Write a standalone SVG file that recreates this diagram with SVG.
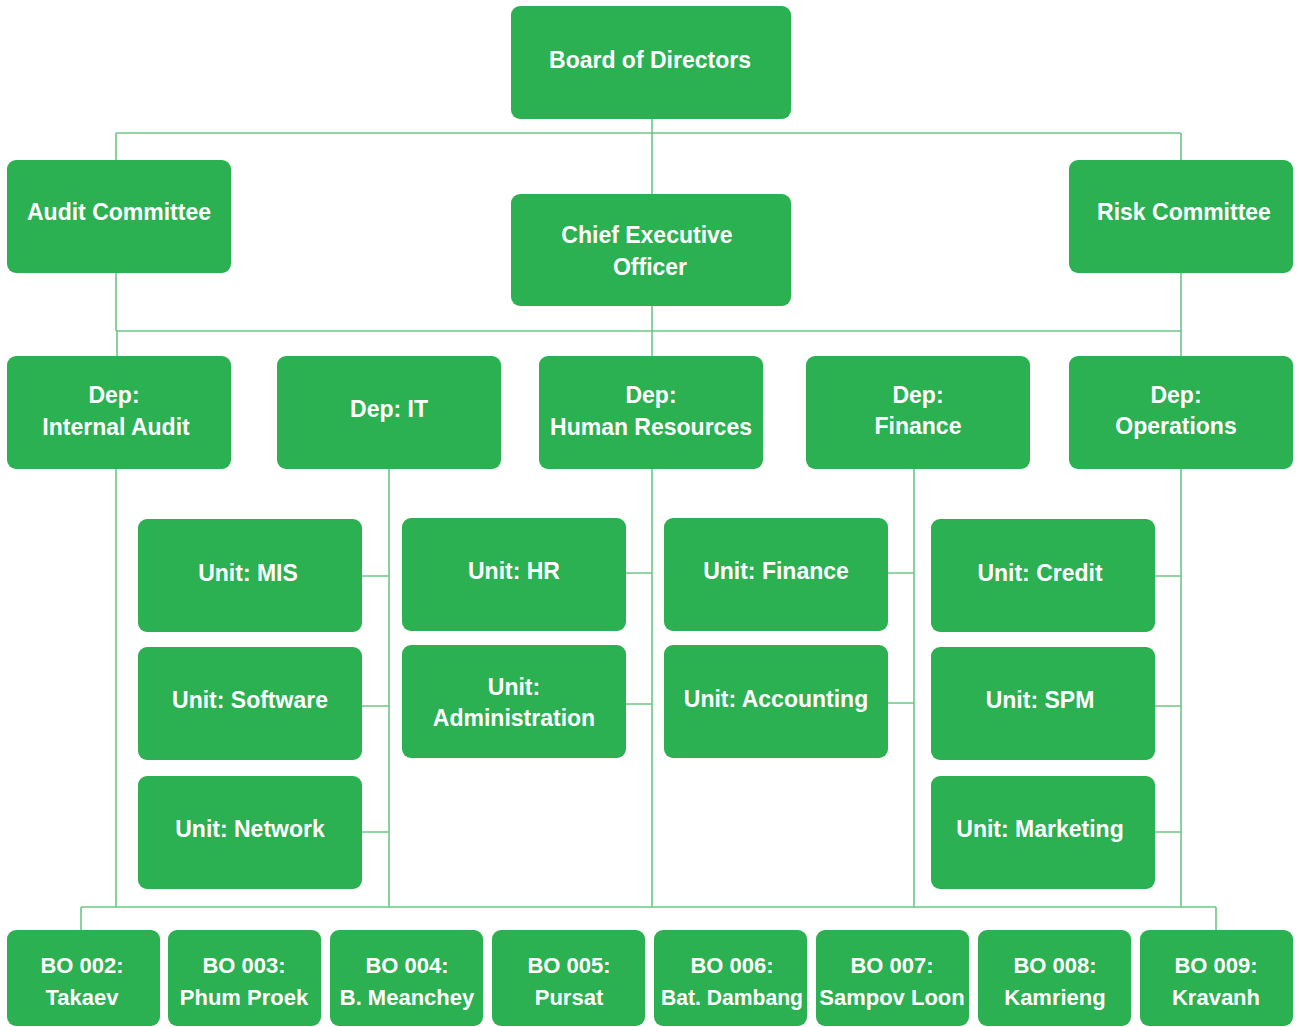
<svg xmlns="http://www.w3.org/2000/svg" width="1298" height="1027" viewBox="0 0 1298 1027">
<style>
.n{fill:#2bb052}
.t{fill:#ffffff;font-family:"Liberation Sans",Arial,sans-serif;font-weight:bold;font-size:23px;text-anchor:middle}
.b{font-size:22px}
.c{stroke:#6cc784;stroke-width:1.6;fill:none}
</style>
<rect width="1298" height="1027" fill="#ffffff"/>
<g id="connectors" class="c">
<path d="M652 119V194M116 133H1181M116 133V160M1181 133V160"/>
<path d="M116 273V331M1181 273V356M116 331H1181M117 331V356M652 306V356"/>
<path d="M116 469V907M389 469V907M652 469V907M914 469V907M1181 469V907"/>
<path d="M362 576H389M362 706H389M362 832H389"/>
<path d="M626 573H652M626 704H652M888 573H914M888 703H914"/>
<path d="M1155 576H1181M1155 706H1181M1155 832H1181"/>
<path d="M81 907H1216M81 907V930M1216 907V930"/>
</g>
<g id="board"><rect class="n" x="511" y="6" width="280" height="113" rx="9"/><text class="t" x="650" y="68">Board of Directors</text></g>
<g id="audit"><rect class="n" x="7" y="160" width="224" height="113" rx="9"/><text class="t" x="119" y="220">Audit Committee</text></g>
<g id="ceo"><rect class="n" x="511" y="194" width="280" height="112" rx="9"/><text class="t" x="647" y="243">Chief Executive</text><text class="t" x="650" y="275">Officer</text></g>
<g id="risk"><rect class="n" x="1069" y="160" width="224" height="113" rx="9"/><text class="t" x="1184" y="220">Risk Committee</text></g>
<g id="dep-internal-audit"><rect class="n" x="7" y="356" width="224" height="113" rx="9"/><text class="t" x="114" y="403">Dep:</text><text class="t" x="116" y="435">Internal Audit</text></g>
<g id="dep-it"><rect class="n" x="277" y="356" width="224" height="113" rx="9"/><text class="t" x="389" y="417">Dep: IT</text></g>
<g id="dep-hr"><rect class="n" x="539" y="356" width="224" height="113" rx="9"/><text class="t" x="651" y="403">Dep:</text><text class="t" x="651" y="435">Human Resources</text></g>
<g id="dep-finance"><rect class="n" x="806" y="356" width="224" height="113" rx="9"/><text class="t" x="918" y="403">Dep:</text><text class="t" x="918" y="434">Finance</text></g>
<g id="dep-operations"><rect class="n" x="1069" y="356" width="224" height="113" rx="9"/><text class="t" x="1176" y="403">Dep:</text><text class="t" x="1176" y="434">Operations</text></g>
<g id="unit-mis"><rect class="n" x="138" y="519" width="224" height="113" rx="9"/><text class="t" x="248" y="581">Unit: MIS</text></g>
<g id="unit-software"><rect class="n" x="138" y="647" width="224" height="113" rx="9"/><text class="t" x="250" y="708">Unit: Software</text></g>
<g id="unit-network"><rect class="n" x="138" y="776" width="224" height="113" rx="9"/><text class="t" x="250" y="837">Unit: Network</text></g>
<g id="unit-hr"><rect class="n" x="402" y="518" width="224" height="113" rx="9"/><text class="t" x="514" y="579">Unit: HR</text></g>
<g id="unit-administration"><rect class="n" x="402" y="645" width="224" height="113" rx="9"/><text class="t" x="514" y="695">Unit:</text><text class="t" x="514" y="726">Administration</text></g>
<g id="unit-finance"><rect class="n" x="664" y="518" width="224" height="113" rx="9"/><text class="t" x="776" y="579">Unit: Finance</text></g>
<g id="unit-accounting"><rect class="n" x="664" y="645" width="224" height="113" rx="9"/><text class="t" x="776" y="707">Unit: Accounting</text></g>
<g id="unit-credit"><rect class="n" x="931" y="519" width="224" height="113" rx="9"/><text class="t" x="1040" y="581">Unit: Credit</text></g>
<g id="unit-spm"><rect class="n" x="931" y="647" width="224" height="113" rx="9"/><text class="t" x="1040" y="708">Unit: SPM</text></g>
<g id="unit-marketing"><rect class="n" x="931" y="776" width="224" height="113" rx="9"/><text class="t" x="1040" y="837">Unit: Marketing</text></g>
<g id="bo002"><rect class="n" x="7" y="930" width="153" height="96" rx="9"/><text class="t b" x="82" y="973">BO 002:</text><text class="t b" x="82" y="1005">Takaev</text></g>
<g id="bo003"><rect class="n" x="168" y="930" width="153" height="96" rx="9"/><text class="t b" x="244" y="973">BO 003:</text><text class="t b" x="244" y="1005">Phum Proek</text></g>
<g id="bo004"><rect class="n" x="330" y="930" width="153" height="96" rx="9"/><text class="t b" x="407" y="973">BO 004:</text><text class="t b" x="407" y="1005">B. Meanchey</text></g>
<g id="bo005"><rect class="n" x="492" y="930" width="153" height="96" rx="9"/><text class="t b" x="569" y="973">BO 005:</text><text class="t b" x="569" y="1005">Pursat</text></g>
<g id="bo006"><rect class="n" x="654" y="930" width="153" height="96" rx="9"/><text class="t b" x="732" y="973">BO 006:</text><text class="t b" x="732" y="1005" textLength="142" lengthAdjust="spacingAndGlyphs">Bat. Dambang</text></g>
<g id="bo007"><rect class="n" x="816" y="930" width="153" height="96" rx="9"/><text class="t b" x="892" y="973">BO 007:</text><text class="t b" x="892" y="1005">Sampov Loon</text></g>
<g id="bo008"><rect class="n" x="978" y="930" width="153" height="96" rx="9"/><text class="t b" x="1055" y="973">BO 008:</text><text class="t b" x="1055" y="1005">Kamrieng</text></g>
<g id="bo009"><rect class="n" x="1140" y="930" width="153" height="96" rx="9"/><text class="t b" x="1216" y="973">BO 009:</text><text class="t b" x="1216" y="1005">Kravanh</text></g>
</svg>
